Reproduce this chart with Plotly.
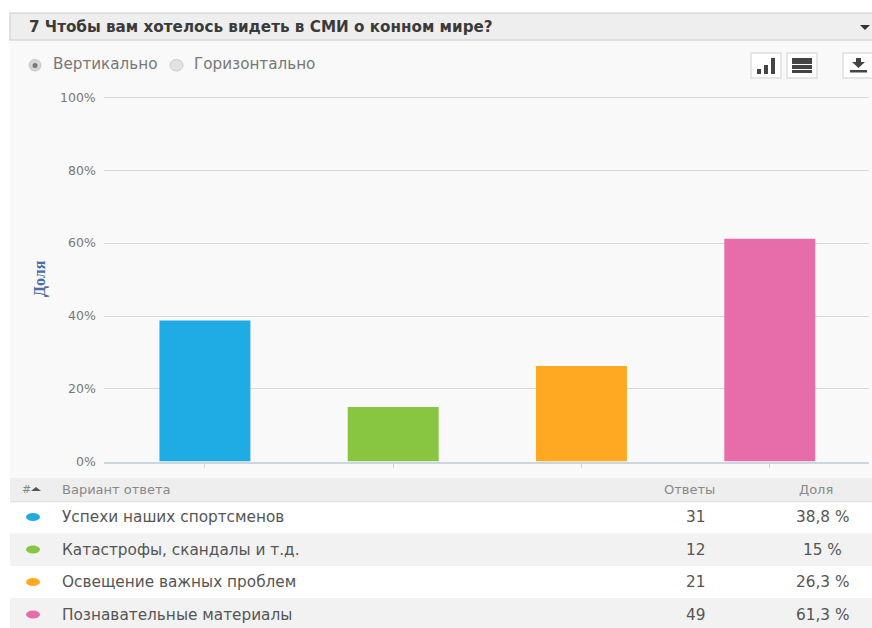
import plotly.graph_objects as go

W, H = 872, 628
title_text = "7 Чтобы вам хотелось видеть в СМИ о конном мире?"
orient_labels = ["Вертикально", "Горизонтально"]
answers = ["Успехи наших спортсменов", "Катастрофы, скандалы и т.д.",
           "Освещение важных проблем", "Познавательные материалы"]
counts = ["31", "12", "21", "49"]
shares = [38.8, 15, 26.3, 61.3]
share_labels = ["38,8 %", "15 %", "26,3 %", "61,3 %"]
colors = ["#1fabe3", "#88c540", "#fea921", "#e66daa"]
y_ticks = [0, 20, 40, 60, 80, 100]
y_tick_labels = ["0%", "20%", "40%", "60%", "80%", "100%"]
table_heads = ["#", "Вариант ответа", "Ответы", "Доля"]
axis_title = "Доля"

FONT = "DejaVu Sans, Verdana, sans-serif"
shapes, notes = [], []


def X(p):
    return p / W


def Y(p):
    return 1 - p / H


def rect(x0, y0, x1, y1, fill, line=None, width=1, kind="rect", layer="below"):
    shapes.append(dict(type=kind, xref="paper", yref="paper", x0=X(x0), x1=X(x1), y0=Y(y1), y1=Y(y0),
                       fillcolor=fill, line=dict(color=line or "rgba(0,0,0,0)", width=width if line else 0),
                       layer=layer))


def text(x, y, s, size=13.5, color="#555555", anchor="left", bold=False, family=FONT, angle=0):
    dx = {"left": -2, "right": 2, "center": 0}[anchor]
    notes.append(dict(xref="paper", yref="paper", x=X(x + dx), y=Y(y), text=f"<b>{s}</b>" if bold else s,
                      showarrow=False, xanchor=anchor, yanchor="middle", textangle=angle,
                      font=dict(size=size, color=color, family=family)))


# panels
rect(10, 40, 872, 478, "#f9f9f9")
rect(10, 13, 880, 40, "#eeeeee", "#d9d9d9", 1.5)
text(29, 27, title_text, 15.2, "#3a3a3a", bold=True)
shapes.append(dict(type="path", xref="paper", yref="paper", layer="above", fillcolor="#333333",
                   line=dict(width=0),
                   path=f"M {X(860)} {Y(25)} L {X(870)} {Y(25)} L {X(865)} {Y(30)} Z"))

# radios
rect(29, 59.5, 41, 71, "#d6d6d6", "#c8c8c8", 1, "circle")
rect(32.5, 63, 37.5, 68, "#777777", kind="circle", layer="above")
rect(170, 59.5, 183, 71, "#e2e2e2", "#cccccc", 1, "circle")
text(53, 64, orient_labels[0], 15.2, "#777777")
text(194, 64, orient_labels[1], 15.2, "#777777")

# toolbar buttons
for x0, x1 in [(751, 781), (787, 817), (843, 880)]:
    rect(x0, 53, x1, 78, "#ffffff", "#dedede", 1.5, layer="above")
for x0, y0, x1 in [(757, 69, 761), (764, 65, 768), (771, 58, 775)]:
    rect(x0, y0, x1, 74, "#444444", layer="above")
for y0, y1 in [(58, 64), (65, 69), (70, 73)]:
    rect(792, y0, 812, y1, "#444444", layer="above")
rect(850, 70, 867, 72.5, "#444444", layer="above")
rect(856, 58, 861, 63, "#444444", layer="above")
shapes.append(dict(type="path", xref="paper", yref="paper", layer="above", fillcolor="#444444",
                   line=dict(width=0),
                   path=f"M {X(852)} {Y(62)} L {X(865)} {Y(62)} L {X(858.5)} {Y(68)} Z"))

# table
rect(10, 478, 872, 501, "#eeeeee")
rect(10, 501, 872, 502.5, "#e2e2e2")
rows = [(502.5, 533, "#ffffff"), (533, 566, "#f2f2f2"), (566, 598, "#ffffff"), (598, 628, "#f2f2f2")]
for y0, y1, c in rows:
    rect(10, y0, 872, y1, c)
text(22, 489, table_heads[0], 11, "#888888")
shapes.append(dict(type="path", xref="paper", yref="paper", layer="above", fillcolor="#555555",
                   line=dict(width=0),
                   path=f"M {X(31)} {Y(491)} L {X(41)} {Y(491)} L {X(36)} {Y(487)} Z"))
text(62, 489.5, table_heads[1], 13, "#888888")
text(689, 489.5, table_heads[2], 13, "#888888", "center")
text(816, 489.5, table_heads[3], 13, "#888888", "center")
row_y = [517, 549.5, 582, 614.5]
for i, y in enumerate(row_y):
    rect(26, y - 4, 40, y + 4, colors[i], kind="circle", layer="above")
    text(62, y, answers[i], 15.3, "#555555")
    text(695, y, counts[i], 15.3, "#555555", "center")
    text(822, y, share_labels[i], 15.3, "#555555", "center")

# chart
for v, lab in zip(y_ticks, y_tick_labels):
    y = 461 - 3.635 * v
    text(96, y, lab, 12.5, "#777777", "right")
text(40, 279, axis_title, 16, "#4a6ea5", "center", True, "Liberation Serif, serif", -90)

fig = go.Figure(go.Bar(x=answers, y=shares, marker=dict(color=colors, line=dict(width=0)),
                       width=0.483, showlegend=False))
fig.update_layout(
    width=W, height=H, margin=dict(l=0, r=0, t=0, b=0),
    paper_bgcolor="#ffffff", plot_bgcolor="rgba(0,0,0,0)",
    shapes=shapes, annotations=notes,
    xaxis=dict(domain=[X(104), X(869)], range=[-0.536, 3.527], type="category",
               showticklabels=False, showgrid=False, zeroline=False, showline=True,
               linecolor="#ccd6e0", linewidth=2, ticks="outside", ticklen=4, tickcolor="#ccd6e0"),
    yaxis=dict(domain=[Y(461.5), Y(94.5)], range=[0, 100.96], tickvals=y_ticks, showticklabels=False,
               gridcolor="#d8d8d8", gridwidth=1, zeroline=False, showline=False),
)
fig.write_html("out.html", config={"displayModeBar": False},
               post_script="document.body.style.margin='0';window.dispatchEvent(new Event('resize'));")
